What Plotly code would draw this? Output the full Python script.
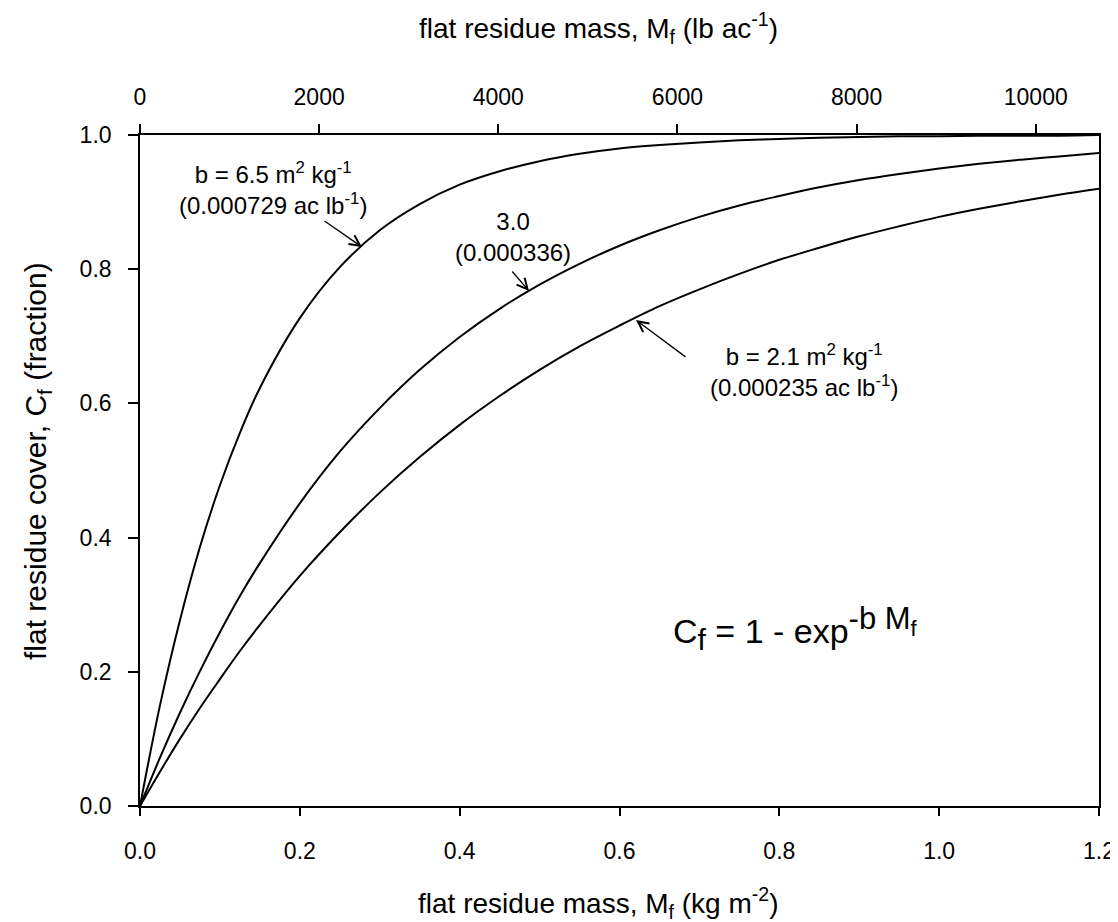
import plotly.graph_objects as go

# residue mass (kg m-2)
mass_kg = [0.0, 0.025, 0.05, 0.075, 0.10, 0.125, 0.15, 0.20, 0.25, 0.30, 0.35, 0.40, 0.45, 0.50,
           0.55, 0.60, 0.65, 0.70, 0.75, 0.80, 0.85, 0.90, 0.95, 1.00, 1.05, 1.10, 1.15, 1.20]

# flat residue cover (fraction)
cover_b65 = [0.0, 0.150, 0.277, 0.386, 0.478, 0.556, 0.623, 0.727, 0.803, 0.858, 0.897, 0.926, 0.946, 0.961,
             0.972, 0.980, 0.985, 0.989, 0.992, 0.994, 0.996, 0.997, 0.998, 0.998, 0.999, 0.999, 0.999, 1.000]
cover_b30 = [0.0, 0.072, 0.139, 0.201, 0.259, 0.313, 0.362, 0.451, 0.528, 0.593, 0.650, 0.699, 0.741, 0.777,
             0.808, 0.835, 0.858, 0.878, 0.895, 0.909, 0.922, 0.933, 0.942, 0.950, 0.957, 0.963, 0.968, 0.973]
cover_b21 = [0.0, 0.051, 0.100, 0.146, 0.189, 0.231, 0.270, 0.343, 0.408, 0.467, 0.520, 0.568, 0.611, 0.650,
             0.685, 0.716, 0.745, 0.770, 0.793, 0.814, 0.832, 0.849, 0.864, 0.878, 0.890, 0.901, 0.911, 0.920]

x_ticks = [0.0, 0.2, 0.4, 0.6, 0.8, 1.0, 1.2]
y_ticks = [0.0, 0.2, 0.4, 0.6, 0.8, 1.0]
top_ticks = [0, 2000, 4000, 6000, 8000, 10000]
KG_M2_TO_LB_AC = 8921.79

FONT = "Liberation Sans, Arial, sans-serif"

fig = go.Figure()
for ys in (cover_b65, cover_b30, cover_b21):
    fig.add_trace(go.Scatter(x=mass_kg, y=ys, mode="lines",
                             line=dict(color="black", width=2, shape="spline", smoothing=1.0),
                             showlegend=False, hoverinfo="skip"))
# invisible trace to activate top axis
fig.add_trace(go.Scatter(x=[0, 1.2 * KG_M2_TO_LB_AC], y=[0, 0], xaxis="x2", mode="lines",
                         line=dict(width=0), opacity=0, showlegend=False, hoverinfo="skip"))

axis_common = dict(showline=True, linecolor="black", linewidth=1.6, ticks="outside", tickcolor="black",
                   tickwidth=1.6, showgrid=False, zeroline=False,
                   tickfont=dict(family=FONT, size=23, color="black"))

# the page body adds an 8 px offset; the figure is sized so the plot area lands
# at x 140..1099 and y 135..806 in the window
fig.update_layout(
    width=1110, height=914,
    margin=dict(l=132, r=19, t=127, b=116, autoexpand=False),
    paper_bgcolor="white", plot_bgcolor="white",
    font=dict(family=FONT, color="black"),
    xaxis=dict(range=[0, 1.2], tickvals=x_ticks, tickformat=".1f", ticklen=8, ticklabelstandoff=16,
               mirror=False, **axis_common),
    xaxis2=dict(range=[0, 1.2 * KG_M2_TO_LB_AC], tickvals=top_ticks, tickformat="d", overlaying="x", side="top",
                ticklen=9, ticklabelstandoff=10, anchor="y", **axis_common),
    yaxis=dict(range=[0, 1.0], tickvals=y_ticks, tickformat=".1f", ticklen=10, ticklabelstandoff=12,
               mirror=True, **axis_common),
)

def px2x(px):
    return (px - 140) / 959 * 1.2

def px2y(py):
    return (806 - py) / 671

def px2px(px):  # paper x (relative to plot area)
    return (px - 140) / 959

def px2py(py):
    return (806 - py) / 671

ann_font = dict(family=FONT, size=24, color="black")
annotations = []
# arrows
for hx, hy, ax, ay in [(362, 247, -39, -27), (529, 291, -18, -21), (636, 320, 51, 38)]:
    annotations.append(dict(x=px2x(hx), y=px2y(hy), xref="x", yref="y", text="", showarrow=True,
                            arrowhead=5, arrowsize=1.6, arrowwidth=1.3, arrowcolor="black",
                            ax=ax, ay=ay, standoff=0))
# labels
annotations.append(dict(x=px2x(273), y=px2y(188), xref="x", yref="y", showarrow=False, font=ann_font,
                        text="b = 6.5 m<sup>2</sup> kg<sup>-1</sup><br>(0.000729 ac lb<sup>-1</sup>)", align="center"))
annotations.append(dict(x=px2x(513), y=px2y(237), xref="x", yref="y", showarrow=False, font=ann_font,
                        text="3.0<br>(0.000336)", align="center"))
annotations.append(dict(x=px2x(804), y=px2y(370), xref="x", yref="y", showarrow=False, font=ann_font,
                        text="b = 2.1 m<sup>2</sup> kg<sup>-1</sup><br>(0.000235 ac lb<sup>-1</sup>)", align="center"))
annotations.append(dict(x=px2x(795), y=px2y(628), xref="x", yref="y", showarrow=False,
                        font=dict(family=FONT, size=34, color="black"),
                        text="C<sub><span style='font-size:30px'>f</span></sub> = 1 - exp"
                             "<sup><span style='font-size:31px'>-b M<sub>f</sub></span></sup>"))
# axis titles
title_font = dict(family=FONT, size=28, color="black")
annotations.append(dict(x=px2px(416), y=px2py(903), xref="paper", yref="paper", xanchor="left", yanchor="middle",
                        showarrow=False, font=title_font,
                        text="flat residue mass, M<sub>f</sub> (kg m<sup>-2</sup>)"))
annotations.append(dict(x=px2px(417), y=px2py(28), xref="paper", yref="paper", xanchor="left", yanchor="middle",
                        showarrow=False, font=title_font,
                        text="flat residue mass, M<sub>f</sub> (lb ac<sup>-1</sup>)"))
annotations.append(dict(x=px2px(37), y=px2py(461), xref="paper", yref="paper", xanchor="center", yanchor="middle",
                        showarrow=False, font=dict(family=FONT, size=30, color="black"), textangle=-90,
                        text="flat residue cover, C<sub>f</sub> (fraction)"))
fig.update_layout(annotations=annotations)

fig.write_html("out.html")
